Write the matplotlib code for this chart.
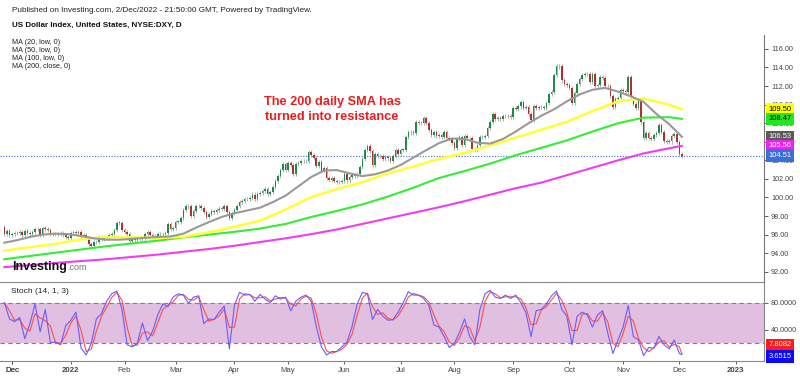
import numpy as np
import pandas as pd
import matplotlib
matplotlib.use('Agg')
import matplotlib.pyplot as plt

plt.rcParams['font.family'] = ['Liberation Sans', 'DejaVu Sans']

# DXY daily closes, one per business day from 26 Nov 2021 to 2 Dec 2022
start_date = '2021-11-26'
first_open = 96.77
closes = [
    96.08, 96.36, 95.99,
    # Dec 2021
    96.04, 96.14, 96.16, 96.28, 95.96, 96.40, 96.21, 96.08, 96.33, 96.56, 96.58, 95.99,
    96.66, 96.56, 96.49, 96.10, 96.07, 96.03, 96.06, 96.21, 95.96, 95.77, 95.67,
    # Jan 2022
    96.21, 96.26, 96.18, 96.32, 95.75, 95.99, 95.62, 94.99, 94.77, 95.17, 95.25,
    95.74, 95.51, 95.77, 95.64, 95.92, 96.03, 96.53, 97.26, 97.27, 96.54,
    # Feb
    96.31, 96.05, 95.36, 95.48, 95.43, 95.62, 95.52, 95.50, 96.04, 96.32, 95.99,
    95.80, 95.83, 96.03, 96.06, 96.02, 96.16, 97.10, 96.61, 96.71,
    # Mar
    97.40, 97.40, 97.75, 98.66, 99.03, 99.07, 97.97, 98.52, 99.13, 99.04, 98.83, 98.43,
    97.93, 98.23, 98.50, 98.47, 98.61, 98.81, 98.79, 99.07, 98.42, 97.80, 98.31,
    # Apr
    98.64, 99.05, 99.50, 99.61, 99.79, 99.82, 99.93, 100.32, 99.84, 100.35, 100.50,
    100.65, 100.95, 100.39, 100.63, 101.12, 101.73, 102.30, 102.96, 103.64, 102.96,
    # May
    103.73, 103.46, 102.49, 103.56, 103.67, 103.90, 103.93, 103.89, 104.85, 104.56, 104.22,
    103.41, 103.80, 102.85, 103.15, 102.08, 101.85, 102.09, 101.81, 101.66, 101.63, 101.75,
    # Jun
    102.55, 101.83, 102.17, 102.44, 102.33, 102.56, 103.28, 104.15, 105.07, 105.52, 105.00,
    103.48, 104.68, 104.45, 104.44, 104.17, 104.38, 104.20, 103.93, 104.50, 105.11, 104.69,
    # Jul
    105.14, 105.12, 106.53, 107.04, 107.00, 106.91, 108.08, 108.06, 107.98, 108.59, 108.07,
    107.30, 106.71, 107.03, 106.59, 106.73, 106.48, 107.08, 106.44, 106.27, 105.90,
    # Aug
    105.36, 106.32, 106.51, 105.67, 106.60, 106.39, 106.37, 105.20, 105.10, 105.69, 106.55,
    106.50, 106.67, 107.50, 108.15, 108.99, 108.50, 108.60, 108.43, 108.77, 108.74, 108.80, 108.70,
    # Sep
    109.68, 109.54, 109.80, 110.25, 109.67, 109.70, 109.01, 108.33, 109.81, 109.66, 109.70,
    109.76, 109.59, 110.19, 111.17, 111.36, 113.19, 114.11, 114.13, 112.60, 112.18, 112.12,
    # Oct
    111.82, 110.19, 111.25, 112.23, 112.79, 113.15, 113.27, 113.26, 112.44, 113.31, 112.06,
    112.13, 112.96, 112.84, 111.99, 112.02, 110.92, 109.71, 110.58, 110.76, 111.53,
    # Nov
    111.45, 111.38, 112.93, 110.86, 110.11, 109.67, 110.44, 108.17, 106.41, 106.94, 106.40,
    106.32, 106.70, 106.97, 107.85, 107.10, 106.13, 105.94, 106.03, 106.66, 106.80, 105.95,
    # Dec
    104.71, 104.51,
]

# moving averages (MA20 every 5 bars, the slow ones every 10 bars)
ma20_bars = list(range(0, 266, 5))
ma20 = [95.13, 95.40, 95.75, 96.00, 96.10, 96.05, 95.85, 95.60, 95.45, 95.45,
        95.55, 95.65, 95.75, 95.80, 96.10, 96.75, 97.35, 97.90, 98.30, 98.60,
        98.90, 99.50, 100.20, 101.20, 102.20, 102.90, 102.95, 102.60, 102.30, 102.50,
        102.90, 103.50, 104.30, 105.10, 105.85, 106.35, 106.30, 105.90, 105.80, 106.30,
        107.10, 108.00, 108.80, 109.50, 110.35, 111.10, 111.60, 111.80, 111.40, 110.90,
        110.30, 109.00, 107.90, 106.53]
slow_bars = list(range(0, 261, 10)) + [265]
ma50 = [94.27, 94.65, 95.00, 95.50, 95.75, 95.70, 95.63, 95.75, 96.25, 96.85,
        97.50, 98.70, 100.05, 100.90, 101.65, 102.60, 103.35, 104.15, 104.80, 105.60,
        106.45, 107.30, 108.15, 109.30, 110.35, 110.65, 110.00, 109.50]
ma100 = [93.35, 93.70, 94.05, 94.40, 94.75, 95.05, 95.35, 95.70, 96.00, 96.30,
         96.65, 97.15, 97.90, 98.55, 99.25, 100.10, 101.05, 102.10, 102.85, 103.65,
         104.55, 105.35, 106.15, 107.10, 108.00, 108.60, 108.65, 108.47]
ma200 = [92.50, 92.70, 92.95, 93.15, 93.35, 93.60, 93.85, 94.15, 94.45, 94.80,
         95.20, 95.60, 96.05, 96.55, 97.15, 97.75, 98.35, 98.95, 99.60, 100.30,
         101.00, 101.60, 102.40, 103.20, 104.00, 104.75, 105.30, 105.56]

# stochastic %K, every 2 bars
stoch_bars = list(range(0, 265, 2)) + [265]
stoch_k = [80, 56, 52, 58, 27, 49, 78, 37, 70, 21, 22, 18, 46, 54, 66, 13, 3, 20, 56, 64,
           82, 93, 97, 70, 18, 15, 20, 50, 24, 38, 62, 78, 74, 88, 93, 91, 79, 88, 90, 49,
           56, 55, 66, 75, 12, 76, 95, 91, 92, 82, 92, 85, 80, 90, 85, 88, 68, 82, 88, 91,
           82, 45, 15, 3, 8, 8, 15, 22, 45, 78, 95, 93, 55, 70, 60, 54, 55, 66, 80, 96,
           91, 91, 86, 76, 47, 44, 30, 14, 20, 36, 56, 30, 18, 70, 93, 98, 88, 86, 91, 86,
           91, 80, 65, 30, 68, 70, 78, 90, 97, 70, 60, 18, 60, 66, 62, 44, 62, 68, 35, 5,
           25, 44, 76, 30, 25, 2, 14, 13, 30, 18, 12, 25, 5, 3.6515]
stoch_d_last = 7.8082

month_names = ['Jan', 'Feb', 'Mar', 'Apr', 'May', 'Jun', 'Jul', 'Aug', 'Sep', 'Oct', 'Nov', 'Dec']

W, H = 800, 376
fig = plt.figure(figsize=(W / 100, H / 100), dpi=100)
ax = fig.add_axes([0, 1 - 281.5 / H, 764 / W, (281.5 - 35) / H])
ax2 = fig.add_axes([0, 1 - 361 / H, 764 / W, (361 - 281.5) / H], sharex=ax)

# candles
c = np.array(closes)
o = np.r_[first_open, c[:-1]]
x = np.arange(len(c))
up = c >= o
lo = np.minimum(o, c)
hi = np.maximum(o, c)
body_col = np.where(up, '#1e8a4c', '#b3312b')
ax.vlines(x, lo - 0.22, hi + 0.22, colors='#9aa79e', lw=0.6, zorder=2)
ax.bar(x, np.maximum(hi - lo, 0.05), bottom=lo, width=0.62, color=body_col, lw=0, zorder=3)

ax.plot(slow_bars, ma200, color='#f23cf2', lw=1.5, zorder=4)
ax.plot(slow_bars, ma100, color='#33ee33', lw=1.5, zorder=4)
ax.plot(slow_bars, ma50, color='#ffff33', lw=1.8, zorder=4)
ax.plot(ma20_bars, ma20, color='#999999', lw=1.5, zorder=4)
ax.axhline(c[-1], color='#4169d8', lw=0.8, ls=(0, (1, 1.5)), zorder=1)

ax.set_ylim(90.95, 117.5)
ax.set_xlim(-1.7, 297.1)
ax.yaxis.tick_right()
ax.set_yticks(np.arange(92, 117, 2))
ax.yaxis.set_major_formatter(matplotlib.ticker.FormatStrFormatter('%.2f'))
ax.tick_params(axis='y', labelsize=5.2, colors='#444444', length=3, width=0.6, pad=2)
ax.tick_params(axis='x', bottom=False, labelbottom=False)
for s in ['left', 'top', 'bottom']:
    ax.spines[s].set_visible(False)
ax.spines['right'].set_color('#777777')

# value boxes on price scale
tags = [(ma50[-1], '#ffff00', 'black'), (ma100[-1], '#22e622', 'black'),
        (ma20[-1], '#5a5a5a', 'white'), (ma200[-1], '#ee22ee', 'white'),
        (c[-1], '#3b6fd8', 'white')]
for val, bg, fg in tags:
    ax.text(1.006, val, f'{val:.2f}', transform=ax.get_yaxis_transform(), fontsize=5.4,
            color=fg, va='center', ha='left', zorder=6, clip_on=False,
            bbox=dict(boxstyle='square,pad=0.35', fc=bg, ec='none'))

# stochastic panel
k = pd.Series(stoch_k, dtype=float)
d = k.rolling(2, min_periods=1).mean()
ax2.axhspan(20, 80, color='#e0bfe0', lw=0, zorder=0)
for lvl in (20, 80):
    ax2.axhline(lvl, color='#8a7a8a', lw=0.8, ls=(0, (4, 3)), zorder=1)
ax2.plot(stoch_bars, d, color='#ff4d4d', lw=0.8, zorder=3)
ax2.plot(stoch_bars, k, color='#6a5cff', lw=0.8, zorder=3)
ax2.set_ylim(-5.9, 111)
ax2.yaxis.tick_right()
ax2.set_yticks([40, 80])
ax2.yaxis.set_major_formatter(matplotlib.ticker.FormatStrFormatter('%.4f'))
ax2.tick_params(axis='y', labelsize=5.2, colors='#444444', length=3, width=0.6, pad=2)
ax2.spines['left'].set_visible(False)
for s in ['top', 'bottom', 'right']:
    ax2.spines[s].set_color('#888888')
ax2.text(1.006, stoch_d_last + 10, f'{stoch_d_last:.4f}', transform=ax2.get_yaxis_transform(),
         fontsize=5.4, color='white', va='center', ha='left', clip_on=False, zorder=6,
         bbox=dict(boxstyle='square,pad=0.35', fc='#ff1a1a', ec='none'))
ax2.text(1.006, stoch_k[-1] - 3, f'{stoch_k[-1]:.4f}', transform=ax2.get_yaxis_transform(),
         fontsize=5.4, color='white', va='center', ha='left', clip_on=False, zorder=6,
         bbox=dict(boxstyle='square,pad=0.35', fc='#0a0aff', ec='none'))

# month ticks on business-day index
days = pd.bdate_range(start_date, '2023-01-31')
pos, labs, bold = [3], ['Dec'], [False]
for i in range(1, len(days)):
    if days[i].month != days[i - 1].month:
        pos.append(i)
        if days[i].month == 1:
            labs.append(str(days[i].year))
            bold.append(True)
        else:
            labs.append(month_names[days[i].month - 1])
            bold.append(False)
ax2.set_xticks(pos)
ax2.set_xticklabels(labs)
ax2.tick_params(axis='x', labelsize=5.6, colors='#444444', length=2, width=0.6, pad=2)
for t, b in zip(ax2.get_xticklabels(), bold):
    if b:
        t.set_fontweight('bold')
ax2.text(0.015, 0.88, 'Stoch (14, 1, 3)', transform=ax2.transAxes, fontsize=6, color='#222222',
         va='center', ha='left')


def ftext(px, py, s, **kw):
    fig.text(px / W, 1 - py / H, s, va='center', ha=kw.pop('ha', 'left'), **kw)


ftext(12, 11, 'Published on Investing.com, 2/Dec/2022 - 21:50:00 GMT, Powered by TradingView.',
      fontsize=5.9, color='#222222')
ftext(12, 25, 'US Dollar Index, United States, NYSE:DXY, D', fontsize=5.8,
      fontweight='bold', color='#111111')
for j, s in enumerate(['MA (20, low, 0)', 'MA (50, low, 0)', 'MA (100, low, 0)', 'MA (200, close, 0)']):
    ftext(12, 43 + j * 8, s, fontsize=5.2, color='#222222')
ftext(332, 109.5, 'The 200 daily SMA has\nturned into resistance', ha='center', fontsize=9.2,
      fontweight='bold', color='#ee1c1c', linespacing=1.25)
ftext(12, 267, 'Investing', fontsize=9, fontweight='bold', color='#111111')
ftext(67, 268, '.com', fontsize=6.5, color='#777777')

fig.savefig('out.png', dpi=100)
